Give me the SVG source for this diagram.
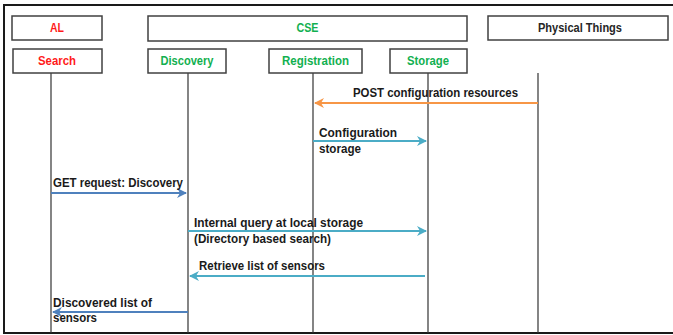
<svg xmlns="http://www.w3.org/2000/svg" width="673" height="335" viewBox="0 0 673 335">
  <style>
    .frame { fill: none; stroke: #1a1a1a; stroke-width: 2; }
    .box { fill: #ffffff; stroke: #404040; stroke-width: 1.5; }
    .life { stroke: #333333; stroke-width: 1.2; }
    .hdr { font-family: "Liberation Sans", Arial, sans-serif; font-weight: bold; font-size: 12px; text-anchor: middle; }
    .red { fill: #ff1a1a; }
    .green { fill: #12b050; }
    .dark { fill: #262626; }
    .lbl { font-family: "Liberation Sans", Arial, sans-serif; font-weight: bold; font-size: 12px; fill: #1a1a1a; }
    .msg { fill: none; stroke-width: 2; }
    .orange { stroke: #f79646; }
    .teal { stroke: #4bacc6; }
    .blue { stroke: #4f81bd; }
  </style>
  <defs>
    <marker id="ah-orange" viewBox="0 0 10 10" refX="9" refY="5" markerWidth="5" markerHeight="5" orient="auto-start-reverse" markerUnits="strokeWidth">
      <path d="M0,0 L10,5 L0,10 L3,5 Z" fill="#f79646"/>
    </marker>
    <marker id="ah-teal" viewBox="0 0 10 10" refX="9" refY="5" markerWidth="5" markerHeight="5" orient="auto-start-reverse" markerUnits="strokeWidth">
      <path d="M0,0 L10,5 L0,10 L3,5 Z" fill="#4bacc6"/>
    </marker>
    <marker id="ah-blue" viewBox="0 0 10 10" refX="9" refY="5" markerWidth="5" markerHeight="5" orient="auto-start-reverse" markerUnits="strokeWidth">
      <path d="M0,0 L10,5 L0,10 L3,5 Z" fill="#4f81bd"/>
    </marker>
  </defs>

  <rect width="673" height="335" fill="#ffffff"/>
  <rect class="frame" x="4" y="5" width="675" height="328"/>

  <!-- lifelines -->
  <g id="lifelines">
    <line class="life" x1="51" y1="73" x2="51" y2="333"/>
    <line class="life" x1="188" y1="73" x2="188" y2="333"/>
    <line class="life" x1="313" y1="73" x2="313" y2="333"/>
    <line class="life" x1="428" y1="73" x2="428" y2="333"/>
    <line class="life" x1="538" y1="73" x2="538" y2="333"/>
  </g>

  <!-- participants -->
  <g id="al">
    <rect class="box" x="12" y="16" width="90" height="24"/>
    <text class="hdr red" x="57" y="32" textLength="14" lengthAdjust="spacingAndGlyphs">AL</text>
  </g>
  <g id="cse">
    <rect class="box" x="148" y="16" width="319" height="25"/>
    <text class="hdr green" x="307.5" y="32" textLength="22" lengthAdjust="spacingAndGlyphs">CSE</text>
  </g>
  <g id="physical-things">
    <rect class="box" x="488" y="16" width="180" height="24"/>
    <text class="hdr dark" x="580" y="32" textLength="84" lengthAdjust="spacingAndGlyphs">Physical Things</text>
  </g>
  <g id="search">
    <rect class="box" x="13" y="49" width="89" height="24"/>
    <text class="hdr red" x="57" y="65" textLength="38" lengthAdjust="spacingAndGlyphs">Search</text>
  </g>
  <g id="discovery">
    <rect class="box" x="148" y="49" width="78" height="24"/>
    <text class="hdr green" x="187" y="65" textLength="53" lengthAdjust="spacingAndGlyphs">Discovery</text>
  </g>
  <g id="registration">
    <rect class="box" x="269" y="49" width="93" height="24"/>
    <text class="hdr green" x="315.5" y="65" textLength="67" lengthAdjust="spacingAndGlyphs">Registration</text>
  </g>
  <g id="storage">
    <rect class="box" x="390" y="49" width="77" height="24"/>
    <text class="hdr green" x="428" y="65" textLength="42" lengthAdjust="spacingAndGlyphs">Storage</text>
  </g>

  <!-- messages -->
  <g id="connectors">
    <line class="msg orange" x1="538" y1="103" x2="315" y2="103" marker-end="url(#ah-orange)"/>
    <line class="msg teal" x1="313" y1="141" x2="426" y2="141" marker-end="url(#ah-teal)"/>
    <line class="msg blue" x1="51" y1="193" x2="186" y2="193" marker-end="url(#ah-blue)"/>
    <line class="msg teal" x1="188" y1="231" x2="426" y2="231" marker-end="url(#ah-teal)"/>
    <line class="msg teal" x1="425" y1="276" x2="190" y2="276" marker-end="url(#ah-teal)"/>
    <line class="msg blue" x1="188" y1="312" x2="53" y2="312" marker-end="url(#ah-blue)"/>
  </g>

  <!-- message labels -->
  <g id="labels">
    <text class="lbl" x="353" y="97" textLength="165" lengthAdjust="spacingAndGlyphs">POST configuration resources</text>
    <text class="lbl" x="319" y="137" textLength="78" lengthAdjust="spacingAndGlyphs">Configuration</text>
    <text class="lbl" x="319" y="153" textLength="42" lengthAdjust="spacingAndGlyphs">storage</text>
    <text class="lbl" x="53" y="187" textLength="130" lengthAdjust="spacingAndGlyphs">GET request: Discovery</text>
    <text class="lbl" x="194" y="227" textLength="169" lengthAdjust="spacingAndGlyphs">Internal query at local storage</text>
    <text class="lbl" x="194" y="243" textLength="137" lengthAdjust="spacingAndGlyphs">(Directory based search)</text>
    <text class="lbl" x="199" y="270" textLength="126" lengthAdjust="spacingAndGlyphs">Retrieve list of sensors</text>
    <text class="lbl" x="53" y="307" textLength="99" lengthAdjust="spacingAndGlyphs">Discovered list of</text>
    <text class="lbl" x="53" y="322" textLength="44" lengthAdjust="spacingAndGlyphs">sensors</text>
  </g>
</svg>
